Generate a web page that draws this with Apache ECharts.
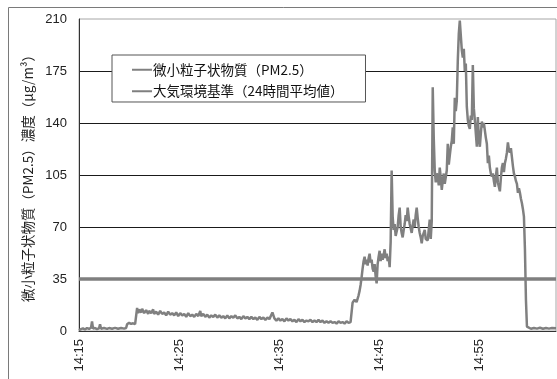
<!DOCTYPE html>
<html>
<head>
<meta charset="utf-8">
<script src="https://cdn.jsdelivr.net/npm/echarts@6/dist/echarts.min.js"></script>
<style>
  html, body { margin: 0; padding: 0; background: #fff; }
  #chart { width: 557px; height: 379px; }
</style>
</head>
<body>
<div id="chart"></div>
<script>
// Elapsed minutes since 14:15 for each PM2.5 reading
const minutes = [
  0.0, 0.2, 0.4, 0.6, 0.8, 1.0, 1.2, 1.3, 1.4, 1.6,
  1.8, 2.0, 2.1, 2.2, 2.5, 2.8, 3.0, 3.3, 3.6, 3.9,
  4.2, 4.5, 4.7, 4.8, 5.0, 5.2, 5.4, 5.6, 5.7, 5.8,
  5.9, 6.0, 6.2, 6.3, 6.5, 6.7, 6.9, 7.0, 7.2, 7.4,
  7.5, 7.7, 7.9, 8.1, 8.3, 8.5, 8.7, 8.9, 9.1, 9.3,
  9.5, 9.7, 9.9, 10.1, 10.3, 10.5, 10.7, 10.9, 11.1, 11.3,
  11.5, 11.7, 11.9, 12.1, 12.2, 12.4, 12.6, 12.8, 13.0, 13.2,
  13.4, 13.6, 13.8, 14.0, 14.2, 14.4, 14.6, 14.8, 15.0, 15.2,
  15.4, 15.6, 15.8, 16.0, 16.2, 16.4, 16.6, 16.8, 17.0, 17.2,
  17.4, 17.6, 17.8, 18.0, 18.2, 18.4, 18.6, 18.8, 19.0, 19.3,
  19.5, 19.7, 19.9, 20.1, 20.3, 20.5, 20.7, 20.9, 21.1, 21.3,
  21.5, 21.7, 21.9, 22.1, 22.3, 22.5, 22.7, 22.9, 23.1, 23.3,
  23.5, 23.7, 23.9, 24.1, 24.3, 24.5, 24.7, 24.9, 25.1, 25.3,
  25.5, 25.7, 25.9, 26.1, 26.3, 26.5, 26.7, 26.9, 27.1, 27.2,
  27.3, 27.5, 27.7, 27.9,
  28.0, 28.1, 28.2, 28.3, 28.4, 28.5, 28.6, 28.7, 28.8, 28.9,
  29.0, 29.1, 29.2, 29.3, 29.4, 29.5, 29.6, 29.7, 29.8, 29.9,
  30.0, 30.1, 30.2, 30.3, 30.4, 30.5, 30.6, 30.7, 30.8, 30.9,
  31.0, 31.1, 31.2, 31.3, 31.4, 31.5, 31.6, 31.7, 31.8, 31.9,
  32.0, 32.1, 32.2, 32.3, 32.4, 32.5, 32.6, 32.7, 32.8, 32.9,
  33.0, 33.1, 33.2, 33.3, 33.4, 33.5, 33.6, 33.7, 33.8, 33.9,
  34.0, 34.1, 34.2, 34.3, 34.4, 34.5, 34.6, 34.7, 34.8, 34.9,
  35.0, 35.1, 35.2, 35.3, 35.4, 35.5, 35.6, 35.7, 35.8, 35.9,
  36.0, 36.1, 36.2, 36.3, 36.4, 36.5, 36.6, 36.7, 36.8, 36.9,
  37.0, 37.1, 37.2, 37.3, 37.4, 37.5, 37.6, 37.7, 37.8, 37.9,
  38.0, 38.1, 38.2, 38.3, 38.4, 38.5, 38.6, 38.7, 38.8, 38.9,
  39.0, 39.1, 39.2, 39.3, 39.4, 39.5, 39.6, 39.7, 39.8, 39.9,
  40.0, 40.1, 40.2, 40.3, 40.4, 40.5, 40.6, 40.7, 40.8, 40.9,
  41.0, 41.1, 41.2, 41.3, 41.4, 41.5, 41.6, 41.7, 41.8, 41.9,
  42.0, 42.1, 42.2, 42.3, 42.4, 42.5, 42.6, 42.7, 42.8, 42.9,
  43.0, 43.1, 43.2, 43.3, 43.4, 43.5, 43.6, 43.7, 43.8, 43.9,
  44.0, 44.1, 44.2, 44.3, 44.4, 44.5, 44.6, 44.7,
  44.8, 45.1, 45.4, 45.7, 46.0, 46.3, 46.6, 46.9, 47.2, 47.6
];

// PM2.5 concentration (μg/m³)
const pm25 = [
  0.5, 1.2, 1.8, 1.0, 2.0, 1.4, 2.2, 6.5, 1.6, 2.0,
  1.3, 1.8, 4.5, 1.5, 2.0, 1.4, 2.0, 1.5, 2.1, 1.5,
  2.0, 1.6, 2.0, 4.5, 5.5, 4.8, 5.2, 4.6, 5.5, 15.5,
  12.0, 14.5, 12.5, 15.0, 12.0, 14.0, 11.5, 13.5, 12.0, 14.5,
  11.5, 13.0, 11.0, 13.5, 11.5, 12.5, 10.5, 13.0, 11.0, 12.0,
  10.5, 12.5, 10.0, 12.0, 10.5, 11.5, 9.5, 12.0, 10.0, 11.0,
  9.5, 11.5, 10.0, 13.5, 10.0, 11.5, 9.5, 11.0, 9.0, 10.5,
  9.5, 11.0, 9.0, 10.5, 9.0, 10.0, 8.5, 10.5, 8.5, 10.0,
  9.0, 10.5, 8.5, 9.5, 8.0, 10.0, 8.5, 9.5, 8.0, 9.5,
  8.0, 9.0, 7.5, 9.5, 8.0, 9.0, 7.5, 9.0, 8.0, 12.5,
  8.5, 7.0, 8.5, 7.0, 8.0, 6.5, 8.5, 7.0, 8.0, 6.5,
  7.5, 6.0, 8.0, 6.5, 7.5, 6.0, 7.0, 6.5, 7.5, 6.0,
  7.0, 6.0, 7.5, 6.0, 7.0, 5.5, 6.5, 5.5, 6.5, 5.5,
  6.0, 5.0, 6.5, 5.5, 6.0, 5.0, 6.5, 5.5, 6.0, 7.0,
  19.0, 21.0, 19.5, 24.0,
  27, 31, 36, 42, 47, 50, 45, 48, 44, 49,
  52, 46, 48, 42, 40, 45, 37, 32, 45, 50,
  54, 47, 52, 48, 51, 55, 49, 52, 47, 50,
  43, 60, 108, 77, 68, 72, 64, 63, 70, 78,
  83, 70, 66, 63, 68, 72, 78, 74, 83, 77,
  72, 69, 66, 71, 75, 70, 78, 83, 76, 70,
  66, 63, 59, 64, 66, 68, 62, 63, 61, 68,
  75, 62, 74, 164, 130, 108, 100, 106, 104, 98,
  110, 103, 95, 101, 106, 99, 100, 108, 126, 112,
  118, 124, 128, 137, 126, 157, 148, 155, 182, 200,
  209, 210, 189, 184, 190, 175, 180, 151, 142, 138,
  136, 145, 142, 179, 150, 142, 133, 124, 144, 130,
  124, 133, 141, 137, 140, 135, 130, 126, 113, 118,
  110, 106, 104, 106, 101, 97, 104, 110, 100, 97,
  94, 103, 110, 113, 107, 113, 116, 120, 127, 122,
  120, 123, 117, 111, 106, 104, 101, 99, 93, 96,
  93, 89, 86, 82, 77, 55, 21, 3,
  2.0, 1.5, 2.0, 1.6, 2.2, 1.5, 2.0, 1.6, 2.0, 1.8
];

// 24-hour average air quality standard
const standardValue = 35;

// Y-axis ticks
const yTicks = [0, 35, 70, 105, 140, 175, 210];

const seriesNames = ['微小粒子状物質（PM2.5）', '大気環境基準（24時間平均値）'];
const yAxisTitle = '微小粒子状物質（PM2.5）濃度（μg/m³）';

const startHour = 14, startMinute = 15;
const endMinutes = minutes[minutes.length - 1];

function clockLabel(m) {
  const total = startHour * 60 + startMinute + Math.round(m);
  const h = Math.floor(total / 60), mm = total % 60;
  return h + ':' + (mm < 10 ? '0' : '') + mm;
}

const pmData = minutes.map((m, i) => [m, pm25[i]]);
const stdData = [[0, standardValue], [endMinutes, standardValue]];

const chart = echarts.init(document.getElementById('chart'), null, { renderer: 'canvas' });

const numFont = '"Liberation Sans", Arial, sans-serif';
const jpFont = '"Noto Sans CJK JP", sans-serif';

chart.setOption({
  animation: false,
  backgroundColor: '#ffffff',
  graphic: [{
    type: 'rect',
    shape: { x: 8.5, y: 7.5, width: 600, height: 400 },
    style: { fill: 'none', stroke: '#7a7a7a', lineWidth: 1 },
    silent: true
  }],
  grid: {
    left: 79, top: 19, right: 1, bottom: 48,
    show: true, borderColor: '#a6a6a6', borderWidth: 1,
    containLabel: false
  },
  legend: {
    orient: 'vertical',
    left: 112, top: 55,
    padding: [8, 22, 4, 20],
    itemGap: 8,
    icon: 'rect',
    itemWidth: 20,
    itemHeight: 2,
    backgroundColor: '#ffffff',
    borderColor: '#555555',
    borderWidth: 1,
    borderRadius: 0,
    textStyle: { fontFamily: jpFont, fontSize: 13.5, color: '#111', padding: [0, 0, 0, -4] },
    data: seriesNames
  },
  xAxis: {
    type: 'value',
    min: 0,
    max: endMinutes,
    interval: 10,
    axisLine: { show: true, lineStyle: { color: '#333', width: 1 } },
    axisTick: { show: false },
    splitLine: { show: false },
    axisLabel: {
      rotate: 90,
      margin: 8,
      showMaxLabel: false,
      fontFamily: numFont,
      fontSize: 13,
      color: '#222',
      formatter: v => clockLabel(v)
    }
  },
  yAxis: {
    type: 'value',
    min: yTicks[0],
    max: yTicks[yTicks.length - 1],
    interval: yTicks[1] - yTicks[0],
    name: yAxisTitle,
    nameLocation: 'middle',
    nameRotate: 90,
    nameGap: 32,
    nameTextStyle: { fontFamily: jpFont, fontSize: 13.5, color: '#222' },
    axisLine: { show: true, lineStyle: { color: '#333', width: 1 } },
    axisTick: { show: false },
    axisLabel: { margin: 12, fontFamily: numFont, fontSize: 13, color: '#222' },
    splitLine: { show: true, showMaxLine: false, lineStyle: { color: '#1a1a1a', width: 1 } }
  },
  series: [
    {
      name: seriesNames[0],
      type: 'line',
      data: pmData,
      showSymbol: false,
      symbol: 'none',
      lineStyle: { color: '#808080', width: 2.5 },
      itemStyle: { color: '#808080' },
      z: 3
    },
    {
      name: seriesNames[1],
      type: 'line',
      data: stdData,
      showSymbol: false,
      symbol: 'none',
      lineStyle: { color: '#7f7f7f', width: 3.5 },
      itemStyle: { color: '#7f7f7f' },
      z: 2
    }
  ]
});
</script>
</body>
</html>
